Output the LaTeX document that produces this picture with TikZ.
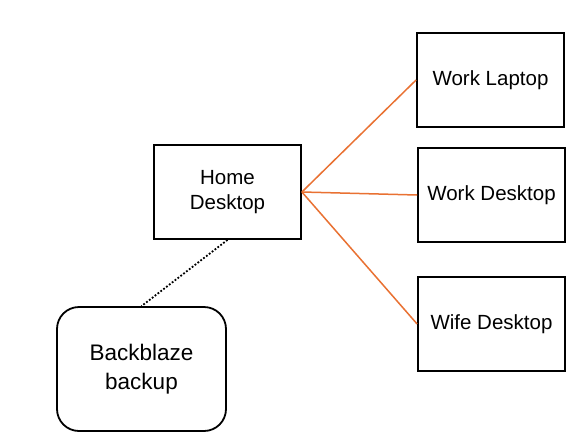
\documentclass[tikz,border=0pt]{standalone}
\usepackage{fontspec}
\setmainfont{Liberation Sans}
\definecolor{linkorange}{HTML}{E97132}
\begin{document}
\begin{tikzpicture}[x=1pt,y=-1pt,
  pcbox/.style={draw=black, line width=1.8pt, minimum width=147pt, minimum height=94pt, inner sep=0pt, align=center, font=\fontsize{20.5}{25}\selectfont},
  cloudbox/.style={draw=black, line width=1.8pt, rounded corners=22pt, minimum width=169pt, minimum height=124pt, inner sep=0pt, align=center, font=\fontsize{22.5}{28.5}\selectfont},
  link/.style={draw=linkorange, line width=1.5pt},
  backup/.style={draw=black, line width=1.8pt, dash pattern=on 1.8pt off 1.8pt}]
\useasboundingbox[fill=white] (0,0) rectangle (588,444);
\node[pcbox] (home) at (227.5,192) {Home\\Desktop};
\node[pcbox] (laptop) at (490.5,80) {\raisebox{-2pt}{Work Laptop}};
\node[pcbox] (workdesk) at (491.5,195) {\raisebox{-2pt}{Work Desktop}};
\node[pcbox] (wife) at (491.5,324) {\raisebox{-2pt}{Wife Desktop}};
\node[cloudbox] (bb) at (141.5,369) {Backblaze\\backup};
\draw[link] (home.east) -- (laptop.west);
\draw[link] (home.east) -- (workdesk.west);
\draw[link] (home.east) -- (wife.west);
\draw[backup] (home.south) -- (bb.north);
\end{tikzpicture}
\end{document}
